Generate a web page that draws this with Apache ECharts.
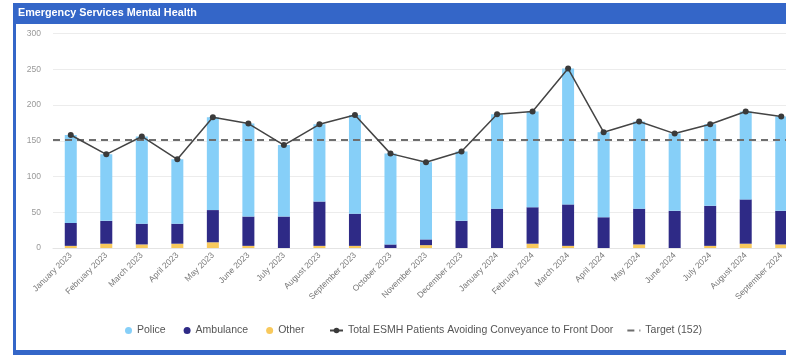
<!DOCTYPE html>
<html>
<head>
<meta charset="utf-8">
<script src="https://cdn.jsdelivr.net/npm/echarts@6/dist/echarts.min.js"></script>
<style>
  html, body { margin: 0; padding: 0; overflow: hidden; background: #fff; }
  #chart { width: 786px; height: 355px; }
</style>
</head>
<body>
<div id="chart"></div>
<script>
// Monthly ESMH activity, January 2023 – September 2024
const months = [
  'January 2023', 'February 2023', 'March 2023', 'April 2023', 'May 2023', 'June 2023',
  'July 2023', 'August 2023', 'September 2023', 'October 2023', 'November 2023', 'December 2023',
  'January 2024', 'February 2024', 'March 2024', 'April 2024', 'May 2024', 'June 2024',
  'July 2024', 'August 2024', 'September 2024'
];
const police    = [123, 93, 122, 90, 130, 130, 100, 108, 138, 127, 108, 97, 132, 134, 190, 119, 122, 108, 114, 123, 132];
const ambulance = [32, 32, 29, 28, 45, 41, 44, 62, 45, 5, 8, 38, 55, 51, 58, 43, 50, 52, 56, 62, 47];
const other     = [3, 6, 5, 6, 8, 3, 0, 3, 3, 0, 4, 0, 0, 6, 3, 0, 5, 0, 3, 6, 5];
const totals    = [158, 131, 156, 124, 183, 174, 144, 173, 186, 132, 120, 135, 187, 191, 251, 162, 177, 160, 173, 191, 184];
const target = 152;
const yMax = 300;
const yStep = 50;

const TOTAL_NAME = 'Total ESMH Patients Avoiding Conveyance to Front Door';
const TARGET_NAME = 'Target (' + target + ')';

const FRAME_BLUE = '#3466c8';
const FONT = '"Liberation Sans", Arial, sans-serif';
const DASH = [7, 5];

const chart = echarts.init(document.getElementById('chart'), null, { renderer: 'canvas' });

chart.setOption({
  animation: false,
  backgroundColor: '#fff',
  textStyle: { fontFamily: FONT },
  title: {
    text: 'Emergency Services Mental Health',
    left: 18,
    top: 8,
    padding: 0,
    textStyle: { color: '#fff', fontSize: 10.8, fontWeight: 'bold', fontFamily: FONT }
  },
  // blue card frame: header band, left edge, footer band
  graphic: [
    { type: 'rect', z: -1, shape: { x: 13, y: 3, width: 780, height: 21 }, style: { fill: FRAME_BLUE } },
    { type: 'rect', z: -1, shape: { x: 13, y: 3, width: 3, height: 352 }, style: { fill: FRAME_BLUE } },
    { type: 'rect', z: -1, shape: { x: 13, y: 350, width: 780, height: 5 }, style: { fill: FRAME_BLUE } }
  ],
  legend: [
    {
      left: 125,
      top: 325,
      padding: 0,
      itemWidth: 7,
      itemHeight: 7,
      itemGap: 18,
      textStyle: { color: '#555', fontSize: 10.5, fontFamily: FONT },
      data: [
        { name: 'Police', icon: 'circle' },
        { name: 'Ambulance', icon: 'circle' },
        { name: 'Other', icon: 'circle' }
      ]
    },
    {
      left: 329,
      top: 325,
      padding: 0,
      itemWidth: 13,
      itemHeight: 7,
      itemGap: 13,
      textStyle: { color: '#555', fontSize: 10.5, fontFamily: FONT },
      data: [
        { name: TOTAL_NAME },
        { name: TARGET_NAME, itemStyle: { opacity: 0 } }
      ]
    }
  ],
  grid: {
    left: 53,
    right: -13,
    top: 33.5,
    bottom: 107,
    outerBoundsMode: 'none',
    containLabel: false
  },
  xAxis: {
    type: 'category',
    data: months,
    axisTick: { show: false },
    axisLine: { lineStyle: { color: '#e4e4e4' } },
    axisLabel: { rotate: 45, fontSize: 8.5, color: '#777', margin: 6, interval: 0 }
  },
  yAxis: {
    type: 'value',
    min: 0,
    max: yMax,
    interval: yStep,
    axisLabel: { fontSize: 8.5, color: '#999', margin: 12 },
    splitLine: { lineStyle: { color: '#ececec' } },
    axisLine: { show: false },
    axisTick: { show: false }
  },
  series: [
    {
      name: 'Other', type: 'bar', stack: 'esmh', barWidth: 12,
      itemStyle: { color: '#f8c95c' }, data: other
    },
    {
      name: 'Ambulance', type: 'bar', stack: 'esmh', barWidth: 12,
      itemStyle: { color: '#2e2a86' }, data: ambulance
    },
    {
      name: 'Police', type: 'bar', stack: 'esmh', barWidth: 12,
      itemStyle: { color: '#86cff8' }, data: police
    },
    {
      name: TOTAL_NAME,
      type: 'line', z: 5,
      symbol: 'circle', symbolSize: 6,
      itemStyle: { color: '#3a3a3a' },
      lineStyle: { color: '#444', width: 1.5 },
      data: totals
    },
    {
      name: TARGET_NAME,
      type: 'line', z: 4,
      symbol: 'none',
      itemStyle: { color: '#6e6e6e' },
      lineStyle: { color: '#6e6e6e', width: 2, type: DASH },
      data: [],
      markLine: {
        silent: true,
        symbol: 'none',
        label: { show: false },
        lineStyle: { color: '#6e6e6e', width: 2, type: DASH },
        data: [{ yAxis: target }]
      }
    }
  ]
});
</script>
</body>
</html>
